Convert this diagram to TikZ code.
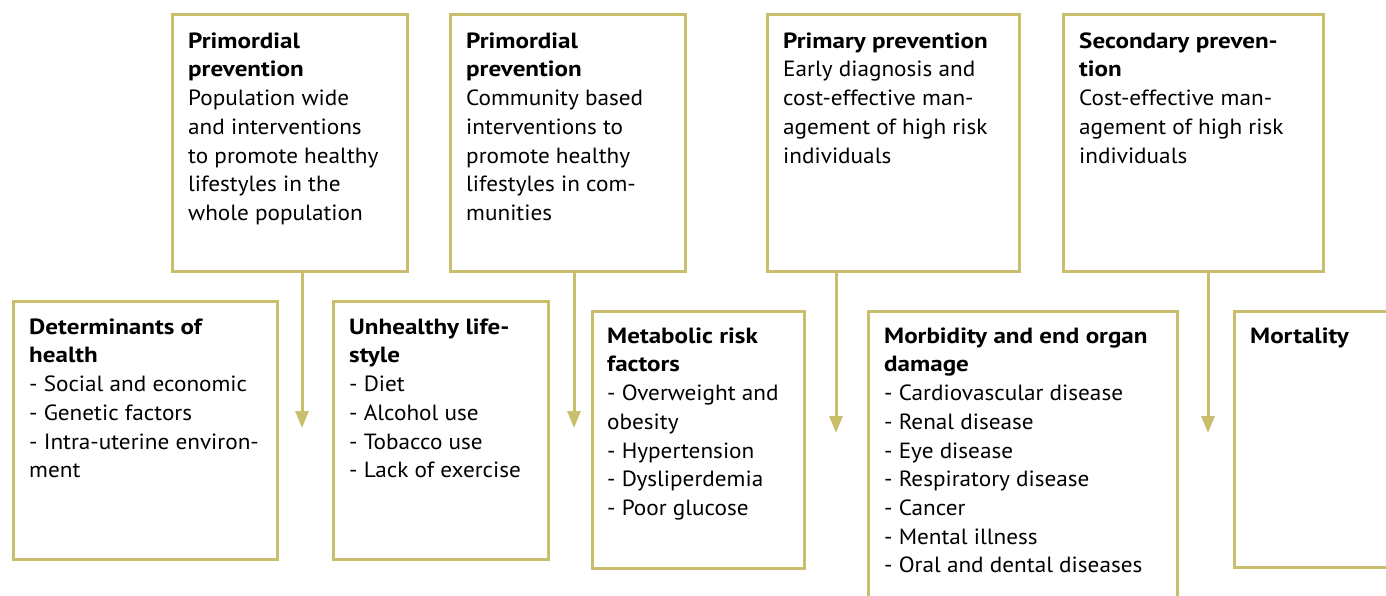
\documentclass[tikz,border=0pt]{standalone}
\usepackage{fontspec}
\setmainfont{PT Sans}[FakeStretch=1.055, BoldFeatures={FakeStretch=1.14}]
\usetikzlibrary{arrows.meta}
\definecolor{khaki}{RGB}{201,190,108}
\begin{document}
\begin{tikzpicture}[x=1pt,y=-1pt,
  box/.style={draw=khaki, line width=3pt, inner sep=0pt, anchor=north west},
  txt/.style={anchor=north west, inner sep=0pt, align=left, font=\fontsize{22}{28.7}\selectfont},
  arr/.style={draw=khaki, line width=3pt, -{Triangle[width=13pt,length=17pt]}}]
\useasboundingbox (0,0) rectangle (1386,596);
% top boxes
\node[box, minimum width=235, minimum height=257] (b1) at (171,13) {};
\node[box, minimum width=235, minimum height=257] (b2) at (449,13) {};
\node[box, minimum width=252, minimum height=257] (b3) at (766,13) {};
\node[box, minimum width=260, minimum height=257] (b4) at (1062,13) {};
% bottom boxes
\node[box, minimum width=264, minimum height=258] (bA) at (12,300) {};
\node[box, minimum width=215, minimum height=258] (bB) at (332,300) {};
\node[box, minimum width=212, minimum height=257] (bC) at (591,310) {};
\node[box, minimum width=309, minimum height=330] (bD) at (867,310) {};
\node[box, minimum width=200, minimum height=256] (bE) at (1233,310) {};
% texts
\node[txt] (t1) at ([shift={(17,15)}]b1.north west) {\strut\textbf{Primordial}\\\textbf{prevention}\\Population wide\\and interventions\\to promote healthy\\lifestyles in the\\whole population};
\node[txt] (t2) at ([shift={(17,15)}]b2.north west) {\strut\textbf{Primordial}\\\textbf{prevention}\\Community based\\interventions to\\promote healthy\\lifestyles in com-\\munities};
\node[txt] (t3) at ([shift={(17,15)}]b3.north west) {\strut\textbf{Primary prevention}\\Early diagnosis and\\cost-effective man-\\agement of high risk\\individuals};
\node[txt] (t4) at ([shift={(17,15)}]b4.north west) {\strut\textbf{Secondary preven-}\\\textbf{tion}\\Cost-effective man-\\agement of high risk\\individuals};
\node[txt] (tA) at ([shift={(17,14)}]bA.north west) {\strut\textbf{Determinants of}\\\textbf{health}\\- Social and economic\\- Genetic factors\\- Intra-uterine environ-\\ment};
\node[txt] (tB) at ([shift={(17,14)}]bB.north west) {\strut\textbf{Unhealthy life-}\\\textbf{style}\\- Diet\\- Alcohol use\\- Tobacco use\\- Lack of exercise};
\node[txt] (tC) at ([shift={(16,13)}]bC.north west) {\strut\textbf{Metabolic risk}\\\textbf{factors}\\- Overweight and\\obesity\\- Hypertension\\- Dysliperdemia\\- Poor glucose};
\node[txt] (tD) at ([shift={(17,13)}]bD.north west) {\strut\textbf{Morbidity and end organ}\\\textbf{damage}\\- Cardiovascular disease\\- Renal disease\\- Eye disease\\- Respiratory disease\\- Cancer\\- Mental illness\\- Oral and dental diseases};
\node[txt] (tE) at ([shift={(17,13)}]bE.north west) {\strut\textbf{Mortality}};
% arrow tips
\coordinate (a1) at (302,428);
\coordinate (a2) at (574,428);
\coordinate (a3) at (836,433);
\coordinate (a4) at (1208,433);
\draw[arr] (b1.south -| a1) -- (a1);
\draw[arr] (b2.south -| a2) -- (a2);
\draw[arr] (b3.south -| a3) -- (a3);
\draw[arr] (b4.south -| a4) -- (a4);
\end{tikzpicture}
\end{document}
